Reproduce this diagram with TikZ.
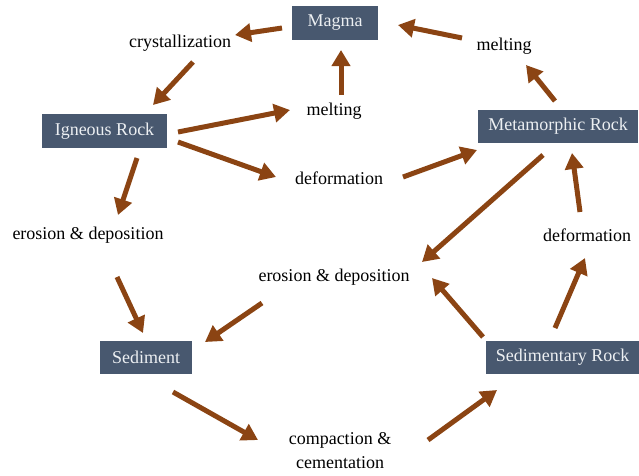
\documentclass[tikz,border=0pt]{standalone}
\usepackage{fontspec}
\setmainfont{Liberation Serif}
\usetikzlibrary{arrows.meta,calc}
\definecolor{boxfill}{RGB}{72,88,111}
\definecolor{boxtext}{RGB}{236,239,242}
\definecolor{arrowc}{RGB}{139,68,19}
\begin{document}
\begin{tikzpicture}[x=1pt,y=-1pt,
  every node/.style={font=\fontsize{18}{24}\selectfont},
  rockbox/.style={fill=boxfill,text=boxtext,inner sep=0pt,minimum height=34pt},
  proc/.style={text=black,inner sep=0pt,align=center},
  flow/.style={draw=arrowc,line width=5pt,-{Triangle[length=16pt,width=18pt]}}]
\useasboundingbox (0,0) rectangle (639,475);
% rock boxes
\node[rockbox,minimum width=86pt] (mag) at (335,22.5) {Magma};
\node[rockbox,minimum width=125pt] (ign) at (104.5,131) {Igneous Rock};
\node[rockbox,minimum width=160pt,minimum height=33pt] (met) at (558,126.5) {Metamorphic Rock};
\node[rockbox,minimum width=92pt,minimum height=33pt] (sed) at (146,357.5) {Sediment};
\node[rockbox,minimum width=153pt,minimum height=33pt] (sdr) at (562.5,357) {Sedimentary Rock};
% processes
\node[proc] (cry) at (180,43) {crystallization};
\node[proc] (meltR) at (504,46) {melting};
\node[proc] (meltM) at (334,111) {melting};
\node[proc] (defM) at (339,178) {deformation};
\node[proc] (eroL) at (88,235) {erosion \& deposition};
\node[proc] (defR) at (587,235) {deformation};
\node[proc] (eroM) at (334,277) {erosion \& deposition};
\node[proc] (comp) at (340,451) {compaction \&\\cementation};
% connectors
\draw[flow] ($(mag)+(-53,5.5)$) -- ($(cry)+(55,-8)$);
\draw[flow] ($(cry)+(13,19)$) -- ($(ign)+(48.5,-26)$);
\draw[flow] ($(ign)+(73.5,1)$) -- ($(meltM)+(-44,-1)$);
\draw[flow] ($(ign)+(73.5,11)$) -- ($(defM)+(-63,-1)$);
\draw[flow] ($(ign)+(32.5,27)$) -- ($(eroL)+(30,-20)$);
\draw[flow] ($(meltM)+(7,-16)$) -- ($(mag)+(6,27.5)$);
\draw[flow] ($(meltR)+(-42,-8)$) -- ($(mag)+(63,2.5)$);
\draw[flow] ($(met)+(-3,-25.5)$) -- ($(meltR)+(22,19)$);
\draw[flow] ($(defM)+(64,-1)$) -- ($(met)+(-81,23.5)$);
\draw[flow] ($(met)+(-15,28.5)$) -- ($(eroM)+(88,-15)$);
\draw[flow] ($(defR)+(-7,-23)$) -- ($(met)+(14,26.5)$);
\draw[flow] ($(sdr)+(-7.5,-29)$) -- ($(defR)+(-2,23)$);
\draw[flow] ($(sdr)+(-79.5,-20)$) -- ($(eroM)+(98,1)$);
\draw[flow] ($(eroM)+(-72,26)$) -- ($(sed)+(59,-15.5)$);
\draw[flow] ($(eroL)+(29,42)$) -- ($(sed)+(-3,-24.5)$);
\draw[flow] ($(sed)+(27,34.5)$) -- ($(comp)+(-82,-11)$);
\draw[flow] ($(comp)+(88,-11)$) -- ($(sdr)+(-65.5,33)$);
\end{tikzpicture}
\end{document}
